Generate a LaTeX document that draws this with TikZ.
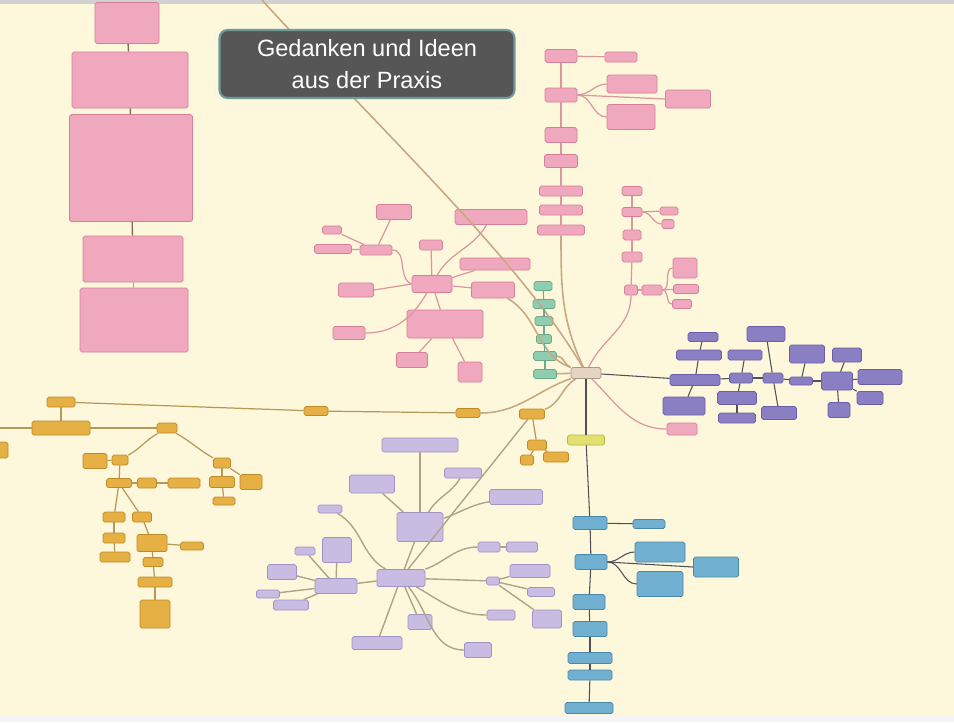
\documentclass[tikz,border=0pt]{standalone}
\usepackage{fontspec}
\usepackage{tikz}
\newfontfamily\titlefont{Liberation Sans}
\definecolor{bgc}{HTML}{FDF8DC}
\definecolor{pinkfill}{HTML}{F0A8BE}
\definecolor{pinkdraw}{HTML}{D48098}
\definecolor{greenfill}{HTML}{8ECDB0}
\definecolor{greendraw}{HTML}{6AAA8A}
\definecolor{purpfill}{HTML}{8B7FC4}
\definecolor{purpdraw}{HTML}{6A5EA8}
\definecolor{orfill}{HTML}{E6B044}
\definecolor{ordraw}{HTML}{C08A28}
\definecolor{yelfill}{HTML}{E2E070}
\definecolor{yeldraw}{HTML}{B8B840}
\definecolor{blufill}{HTML}{72B0D2}
\definecolor{bludraw}{HTML}{4A88AA}
\definecolor{lavfill}{HTML}{C8BCE2}
\definecolor{lavdraw}{HTML}{A094C4}
\definecolor{ctfill}{HTML}{E6D4C2}
\definecolor{ctdraw}{HTML}{A89888}
\definecolor{titfill}{HTML}{565656}
\definecolor{titdraw}{HTML}{6E9C9C}
\tikzstyle{box}=[rectangle,rounded corners=1pt,inner sep=0pt,line width=0.4pt]
\tikzstyle{pk}=[box,draw=pinkdraw,fill=pinkfill]
\tikzstyle{gr}=[box,draw=greendraw,fill=greenfill]
\tikzstyle{pu}=[box,draw=purpdraw,fill=purpfill]
\tikzstyle{og}=[box,draw=ordraw,fill=orfill]
\tikzstyle{ye}=[box,draw=yeldraw,fill=yelfill]
\tikzstyle{bl}=[box,draw=bludraw,fill=blufill]
\tikzstyle{lv}=[box,draw=lavdraw,fill=lavfill]
\tikzstyle{ct}=[box,draw=ctdraw,fill=ctfill]
\tikzstyle{lnc}=[draw={rgb,255:red,200;green,168;blue,130},line width=0.9pt]
\tikzstyle{lnp}=[draw={rgb,255:red,220;green,150;blue,160},line width=0.7pt]
\tikzstyle{lnd}=[draw={rgb,255:red,80;green,80;blue,88},line width=0.6pt]
\tikzstyle{lno}=[draw={rgb,255:red,184;green,152;blue,88},line width=0.7pt]
\tikzstyle{lnl}=[draw={rgb,255:red,176;green,164;blue,136},line width=0.8pt]
\tikzstyle{lng}=[draw={rgb,255:red,110;green,170;blue,140},line width=0.6pt]
\tikzstyle{lnb}=[draw={rgb,255:red,140;green,104;blue,90},line width=0.8pt]
\begin{document}
\begin{tikzpicture}[x=0.2mm,y=-0.2mm]
\useasboundingbox (0,0) rectangle (954,722);
\fill[bgc] (0,0) rectangle (954,722);
\fill[black!18] (0,0) rectangle (954,4);
\fill[black!4] (0,716) rectangle (954,722);
%Nodes
% left column
\node[pk,minimum width=12.8mm,minimum height=8.2mm]  (P1) at (127,23) {};
\node[pk,minimum width=23.2mm,minimum height=11.2mm] (P2) at (130,80) {};
\node[pk,minimum width=24.6mm,minimum height=21.4mm] (P3) at (131,168) {};
\node[pk,minimum width=20mm,minimum height=9.2mm]    (P4) at (133,259) {};
\node[pk,minimum width=21.6mm,minimum height=12.8mm] (P5) at (134,320) {};
% pink top
\node[pk,minimum width=6.4mm,minimum height=2.6mm] (PA) at (561,56) {};
\node[pk,minimum width=6.4mm,minimum height=2mm]   (PB) at (621,57) {};
\node[pk,minimum width=6.4mm,minimum height=2.8mm] (PC) at (561,95) {};
\node[pk,minimum width=10mm,minimum height=3.6mm]  (PD) at (632,84) {};
\node[pk,minimum width=9mm,minimum height=3.6mm]   (PE) at (688,99) {};
\node[pk,minimum width=9.6mm,minimum height=5mm]   (PF) at (631,117) {};
\node[pk,minimum width=6.4mm,minimum height=3mm]   (PG) at (561,135) {};
\node[pk,minimum width=6.6mm,minimum height=2.6mm] (PH) at (561,161) {};
\node[pk,minimum width=8.6mm,minimum height=2mm]   (PI) at (561,191) {};
\node[pk,minimum width=8.6mm,minimum height=2mm]   (PJ) at (561,210) {};
\node[pk,minimum width=9.4mm,minimum height=2mm]   (PK) at (561,230) {};
% pink right
\node[pk,minimum width=4mm,minimum height=1.8mm]   (QA) at (632,191) {};
\node[pk,minimum width=4mm,minimum height=1.8mm]   (QB) at (632,212) {};
\node[pk,minimum width=3.6mm,minimum height=1.6mm] (QC) at (669,211) {};
\node[pk,minimum width=2.4mm,minimum height=1.8mm] (QD) at (668,224) {};
\node[pk,minimum width=3.6mm,minimum height=2mm]   (QE) at (632,235) {};
\node[pk,minimum width=4mm,minimum height=2mm]     (QF) at (632,257) {};
\node[pk,minimum width=2.6mm,minimum height=2mm]   (QG) at (631,290) {};
\node[pk,minimum width=4mm,minimum height=2mm]     (QH) at (652,290) {};
\node[pk,minimum width=4.8mm,minimum height=4mm]   (QI) at (685,268) {};
\node[pk,minimum width=5mm,minimum height=1.8mm]   (QJ) at (686,289) {};
\node[pk,minimum width=3.8mm,minimum height=1.8mm] (QK) at (682,304) {};
% pink left
\node[pk,minimum width=8mm,minimum height=3.4mm]    (RA) at (432,284) {};
\node[pk,minimum width=14.4mm,minimum height=3mm]   (RB) at (491,217) {};
\node[pk,minimum width=14mm,minimum height=2.4mm]   (RC) at (495,264) {};
\node[pk,minimum width=8.6mm,minimum height=3.2mm]  (RD) at (493,290) {};
\node[pk,minimum width=4.6mm,minimum height=2mm]    (RE) at (431,245) {};
\node[pk,minimum width=6.4mm,minimum height=2mm]    (RF) at (376,250) {};
\node[pk,minimum width=7mm,minimum height=3mm]      (RG) at (394,212) {};
\node[pk,minimum width=3.8mm,minimum height=1.6mm]  (RH) at (332,230) {};
\node[pk,minimum width=7.4mm,minimum height=1.8mm]  (RI) at (333,249) {};
\node[pk,minimum width=7mm,minimum height=2.8mm]    (RJ) at (356,290) {};
\node[pk,minimum width=6.4mm,minimum height=2.6mm]  (RK) at (349,333) {};
\node[pk,minimum width=15.2mm,minimum height=5.6mm] (RL) at (445,324) {};
\node[pk,minimum width=6.2mm,minimum height=3mm]    (RM) at (412,360) {};
\node[pk,minimum width=4.8mm,minimum height=4mm]    (RN) at (470,372) {};
\node[pk,minimum width=6mm,minimum height=2.4mm]    (PX) at (682,429) {};
% green
\node[gr,minimum width=3.6mm,minimum height=1.8mm] (G1) at (543,286) {};
\node[gr,minimum width=4.4mm,minimum height=1.8mm] (G2) at (544,304) {};
\node[gr,minimum width=3.6mm,minimum height=1.8mm] (G3) at (544,321) {};
\node[gr,minimum width=3mm,minimum height=1.8mm]   (G4) at (544,339) {};
\node[gr,minimum width=4.6mm,minimum height=1.8mm] (G5) at (545,356) {};
\node[gr,minimum width=4.6mm,minimum height=1.8mm] (G6) at (545,374) {};
% centre
\node[ct,minimum width=6mm,minimum height=2.2mm] (CT) at (586,373) {};
\node[ye,minimum width=7.4mm,minimum height=2mm] (YL) at (586,440) {};
% purple
\node[pu,minimum width=10mm,minimum height=2.2mm]  (V1) at (695,380) {};
\node[pu,minimum width=9mm,minimum height=2mm]     (V2) at (699,355) {};
\node[pu,minimum width=6mm,minimum height=1.8mm]   (V3) at (703,337) {};
\node[pu,minimum width=8.4mm,minimum height=3.6mm] (V4) at (684,406) {};
\node[pu,minimum width=6.8mm,minimum height=2mm]   (V5) at (745,355) {};
\node[pu,minimum width=4.6mm,minimum height=2mm]   (V6) at (741,378) {};
\node[pu,minimum width=7.8mm,minimum height=2.6mm] (V7) at (737,398) {};
\node[pu,minimum width=7.4mm,minimum height=2mm]   (V8) at (737,418) {};
\node[pu,minimum width=4mm,minimum height=2mm]     (V9) at (773,378) {};
\node[pu,minimum width=7.6mm,minimum height=3mm]   (V10) at (766,334) {};
\node[pu,minimum width=7mm,minimum height=2.6mm]   (V11) at (779,413) {};
\node[pu,minimum width=4.6mm,minimum height=1.6mm] (V12) at (801,381) {};
\node[pu,minimum width=7mm,minimum height=3.6mm]   (V13) at (807,354) {};
\node[pu,minimum width=6.2mm,minimum height=3.6mm] (V14) at (837,381) {};
\node[pu,minimum width=5.8mm,minimum height=2.8mm] (V15) at (847,355) {};
\node[pu,minimum width=8.8mm,minimum height=3mm]   (V16) at (880,377) {};
\node[pu,minimum width=5.2mm,minimum height=2.6mm] (V17) at (870,398) {};
\node[pu,minimum width=4.4mm,minimum height=3mm]   (V18) at (839,410) {};
% blue
\node[bl,minimum width=6.8mm,minimum height=2.6mm] (B1) at (590,523) {};
\node[bl,minimum width=6.4mm,minimum height=1.8mm] (B2) at (649,524) {};
\node[bl,minimum width=6.4mm,minimum height=3mm]   (B3) at (591,562) {};
\node[bl,minimum width=10mm,minimum height=4mm]    (B4) at (660,552) {};
\node[bl,minimum width=9mm,minimum height=4mm]     (B5) at (716,567) {};
\node[bl,minimum width=9.2mm,minimum height=5mm]   (B6) at (660,584) {};
\node[bl,minimum width=6.4mm,minimum height=3mm]   (B7) at (589,602) {};
\node[bl,minimum width=6.8mm,minimum height=3mm]   (B8) at (590,629) {};
\node[bl,minimum width=8.8mm,minimum height=2.2mm] (B9) at (590,658) {};
\node[bl,minimum width=8.8mm,minimum height=2mm]   (B10) at (590,675) {};
\node[bl,minimum width=9.6mm,minimum height=2.2mm] (B11) at (589,708) {};
% orange near centre
\node[og,minimum width=5mm,minimum height=2mm]     (O1) at (532,414) {};
\node[og,minimum width=3.8mm,minimum height=2mm]   (O2) at (537,445) {};
\node[og,minimum width=2.6mm,minimum height=2mm]   (O3) at (527,460) {};
\node[og,minimum width=5mm,minimum height=2mm]     (O4) at (556,457) {};
\node[og,minimum width=4.8mm,minimum height=1.8mm] (O5) at (468,413) {};
\node[og,minimum width=4.8mm,minimum height=1.8mm] (O6) at (316,411) {};
% orange left
\node[og,minimum width=5.6mm,minimum height=2mm]   (Y1) at (61,402) {};
\node[og,minimum width=11.6mm,minimum height=2.8mm] (Y2) at (61,428) {};
\node[og,minimum width=4mm,minimum height=2mm]     (Y3) at (167,428) {};
\node[og,minimum width=4.8mm,minimum height=3mm]   (Y4) at (95,461) {};
\node[og,minimum width=3.2mm,minimum height=2mm]   (Y5) at (120,460) {};
\node[og,minimum width=5mm,minimum height=1.8mm]   (Y6) at (119,483) {};
\node[og,minimum width=3.8mm,minimum height=2mm]   (Y7) at (147,483) {};
\node[og,minimum width=6.4mm,minimum height=2mm]   (Y8) at (184,483) {};
\node[og,minimum width=4.4mm,minimum height=2mm]   (Y9) at (114,517) {};
\node[og,minimum width=3.8mm,minimum height=2mm]   (Y10) at (142,517) {};
\node[og,minimum width=4.4mm,minimum height=2mm]   (Y11) at (114,538) {};
\node[og,minimum width=6mm,minimum height=2mm]     (Y12) at (115,557) {};
\node[og,minimum width=6mm,minimum height=3.4mm]   (Y13) at (152,543) {};
\node[og,minimum width=4.6mm,minimum height=1.6mm] (Y14) at (192,546) {};
\node[og,minimum width=4mm,minimum height=1.8mm]   (Y15) at (153,562) {};
\node[og,minimum width=6.8mm,minimum height=2mm]   (Y16) at (155,582) {};
\node[og,minimum width=6mm,minimum height=5.6mm]   (Y17) at (155,614) {};
\node[og,minimum width=3.4mm,minimum height=2mm]   (Y18) at (222,463) {};
\node[og,minimum width=5mm,minimum height=2.2mm]   (Y19) at (222,482) {};
\node[og,minimum width=4.4mm,minimum height=3mm]   (Y20) at (251,482) {};
\node[og,minimum width=4.4mm,minimum height=1.6mm] (Y21) at (224,501) {};
\node[og,minimum width=2mm,minimum height=3.2mm]   (Y22) at (3,450) {};
% lavender
\node[lv,minimum width=9.6mm,minimum height=3.4mm]  (L1) at (401,578) {};
\node[lv,minimum width=9.2mm,minimum height=5.8mm]  (L2) at (420,527) {};
\node[lv,minimum width=15.2mm,minimum height=2.8mm] (L3) at (420,445) {};
\node[lv,minimum width=9mm,minimum height=3.6mm]    (L4) at (372,484) {};
\node[lv,minimum width=7.4mm,minimum height=2mm]    (L5) at (463,473) {};
\node[lv,minimum width=10.6mm,minimum height=3mm]   (L6) at (516,497) {};
\node[lv,minimum width=4.8mm,minimum height=1.6mm]  (L7) at (330,509) {};
\node[lv,minimum width=8.4mm,minimum height=3mm]    (L8) at (336,586) {};
\node[lv,minimum width=4mm,minimum height=1.6mm]    (L9) at (305,551) {};
\node[lv,minimum width=5.8mm,minimum height=5mm]    (L10) at (337,550) {};
\node[lv,minimum width=5.8mm,minimum height=3mm]    (L11) at (282,572) {};
\node[lv,minimum width=4.6mm,minimum height=1.6mm]  (L12) at (268,594) {};
\node[lv,minimum width=7mm,minimum height=2mm]      (L13) at (291,605) {};
\node[lv,minimum width=4.4mm,minimum height=2mm]    (L14) at (489,547) {};
\node[lv,minimum width=6.2mm,minimum height=2mm]    (L15) at (522,547) {};
\node[lv,minimum width=2.6mm,minimum height=1.6mm]  (L16) at (493,581) {};
\node[lv,minimum width=8mm,minimum height=2.6mm]    (L17) at (530,571) {};
\node[lv,minimum width=5.4mm,minimum height=1.8mm]  (L18) at (541,592) {};
\node[lv,minimum width=5.8mm,minimum height=3.6mm]  (L19) at (547,619) {};
\node[lv,minimum width=5.6mm,minimum height=2mm]    (L20) at (501,615) {};
\node[lv,minimum width=4.8mm,minimum height=3mm]    (L21) at (420,622) {};
\node[lv,minimum width=5.4mm,minimum height=3mm]    (L22) at (478,650) {};
\node[lv,minimum width=10mm,minimum height=2.6mm]   (L23) at (377,643) {};
\coordinate (topend) at (262,0);
\coordinate (leftend) at (0,428);
%Lines
\draw[lnb] (P1) -- (P2);
\draw[lnb] (P2) -- (P3);
\draw[lnb] (P3) -- (P4);
\draw[lnp] (P4) -- (P5);
\draw[lnc] (topend) .. controls (380,130) and (520,260) .. (CT);
\draw[lnp] (PA) -- (PB);
\draw[lnp] (PA) -- (PC);
\draw[lnp] (PC) -- (PG);
\draw[lnp] (PG) -- (PH);
\draw[lnp] (PH) -- (PI);
\draw[lnp] (PI) -- (PJ);
\draw[lnp] (PJ) -- (PK);
\draw[lnp] (PC.east) to[out=0,in=180] (PD.west);
\draw[lnp] (PC.east) -- (PE.west);
\draw[lnp] (PC.east) to[out=0,in=180] (PF.west);
\draw[lnc] (PK) to[out=-90,in=115] (CT);
\draw[lnp] (QA) -- (QB);
\draw[lnp] (QB) -- (QC);
\draw[lnp] (QB.east) to[out=0,in=180] (QD.west);
\draw[lnp] (QB) -- (QE);
\draw[lnp] (QE) -- (QF);
\draw[lnp] (QF) -- (QG);
\draw[lnp] (QG) -- (QH);
\draw[lnp] (QH.east) to[out=0,in=180] (QI.west);
\draw[lnp] (QH) -- (QJ);
\draw[lnp] (QH.east) to[out=0,in=180] (QK.west);
\draw[lnp] (QG) to[out=-90,in=65] (CT);
\draw[lnp] (RA) to[out=60,in=-120] (RB);
\draw[lnp] (RA) -- (RC);
\draw[lnp] (RA) -- (RD);
\draw[lnp] (RA) -- (RE);
\draw[lnp] (RA.west) to[out=160,in=0] (RF.east);
\draw[lnp] (RF) -- (RG);
\draw[lnp] (RF) -- (RH);
\draw[lnp] (RF) -- (RI);
\draw[lnp] (RA.west) -- (RJ.east);
\draw[lnp] (RA) to[out=-120,in=0] (RK.east);
\draw[lnp] (RA) -- (RL);
\draw[lnp] (RL) -- (RM);
\draw[lnp] (RL) -- (RN);
\draw[lnc] (RD) to[out=-30,in=160] (CT);
\draw[lng] (G1) -- (G2);
\draw[lng] (G2) -- (G3);
\draw[lng] (G3) -- (G4);
\draw[lng] (G4) -- (G5);
\draw[lng] (G5) -- (G6);
\draw[lnc] (G5) to[out=0,in=160] (CT);
\draw[lnc] (G6) -- (CT);
\draw[lnp] (CT) to[out=-45,in=180] (PX);
\draw[lnd] (CT) -- (V1);
\draw[lnd] (V1) -- (V6);
\draw[lnd] (V6) -- (V9);
\draw[lnd] (V9) -- (V12);
\draw[lnd] (V12) -- (V14);
\draw[lnd] (V14) -- (V16);
\draw[lnd] (V1) -- (V2);
\draw[lnd] (V2) -- (V3);
\draw[lnd] (V1) -- (V4);
\draw[lnd] (V6) -- (V5);
\draw[lnd] (V6) -- (V7);
\draw[lnd] (V7) -- (V8);
\draw[lnd] (V9) -- (V10);
\draw[lnd] (V9) -- (V11);
\draw[lnd] (V12) -- (V13);
\draw[lnd] (V14) -- (V15);
\draw[lnd] (V14) -- (V18);
\draw[lnd] (V14) -- (V17);
\draw[lnd] (CT) -- (YL);
\draw[lnd] (YL) -- (B1);
\draw[lnd] (B1) -- (B2);
\draw[lnd] (B1) -- (B3);
\draw[lnd] (B3.east) to[out=0,in=180] (B4.west);
\draw[lnd] (B3.east) -- (B5.west);
\draw[lnd] (B3.east) to[out=0,in=180] (B6.west);
\draw[lnd] (B3) -- (B7);
\draw[lnd] (B7) -- (B8);
\draw[lnd] (B8) -- (B9);
\draw[lnd] (B9) -- (B10);
\draw[lnd] (B10) -- (B11);
\draw[lnc] (CT) to[out=-150,in=20] (O1);
\draw[lnc] (CT) to[out=-160,in=0] (O5);
\draw[lno] (O1) -- (O2);
\draw[lno] (O2) -- (O3);
\draw[lno] (O2) -- (O4);
\draw[lno] (O6) -- (O5);
\draw[lno] (Y1) -- (O6);
\draw[lno] (Y1) -- (Y2);
\draw[lno] (leftend) -- (Y2);
\draw[lno] (Y2) -- (Y3);
\draw[lno] (Y3) to[out=-150,in=30] (Y5);
\draw[lno] (Y3) to[out=-30,in=150] (Y18);
\draw[lno] (Y5) -- (Y4);
\draw[lno] (Y5) -- (Y6);
\draw[lno] (Y6) -- (Y7);
\draw[lno] (Y7) -- (Y8);
\draw[lno] (Y6) -- (Y9);
\draw[lno] (Y6) -- (Y10);
\draw[lno] (Y9) -- (Y11);
\draw[lno] (Y11) -- (Y12);
\draw[lno] (Y10) -- (Y13);
\draw[lno] (Y13) -- (Y14);
\draw[lno] (Y13) -- (Y15);
\draw[lno] (Y15) -- (Y16);
\draw[lno] (Y16) -- (Y17);
\draw[lno] (Y18) -- (Y19);
\draw[lno] (Y18) -- (Y20);
\draw[lno] (Y19) -- (Y21);
\draw[lnl] (L1) -- (O1);
\draw[lnl] (L1) -- (L2);
\draw[lnl] (L2) -- (L3);
\draw[lnl] (L2) -- (L4);
\draw[lnl] (L2) to[out=60,in=-120] (L5);
\draw[lnl] (L2) to[out=20,in=190] (L6);
\draw[lnl] (L1) to[out=150,in=-30] (L7);
\draw[lnl] (L1) -- (L8);
\draw[lnl] (L8) -- (L9);
\draw[lnl] (L8) -- (L10);
\draw[lnl] (L8) -- (L11);
\draw[lnl] (L8) -- (L12);
\draw[lnl] (L8) -- (L13);
\draw[lnl] (L1) to[out=20,in=180] (L14);
\draw[lnl] (L14) -- (L15);
\draw[lnl] (L1) -- (L16);
\draw[lnl] (L16) -- (L17);
\draw[lnl] (L16) -- (L18);
\draw[lnl] (L16) -- (L19);
\draw[lnl] (L1) to[out=-30,in=180] (L20);
\draw[lnl] (L1) -- (L21);
\draw[lnl] (L1) to[out=-50,in=180] (L22);
\draw[lnl] (L1) -- (L23);
% title
\node[rectangle,rounded corners=1.6mm,draw=titdraw,line width=1.2pt,fill=titfill,
      minimum width=59mm,minimum height=13.6mm,text=white,align=center,
      font=\titlefont\fontsize{13.4}{18.2}\selectfont] (title) at (367,64)
      {Gedanken und Ideen\\aus der Praxis};
\end{tikzpicture}
\end{document}
